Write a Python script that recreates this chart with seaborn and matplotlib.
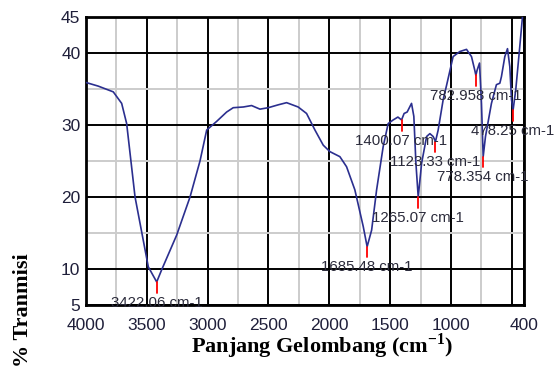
import matplotlib
matplotlib.use("Agg")
import matplotlib.pyplot as plt
import seaborn as sns
import pandas as pd

# ---- data ----
wavenumber = [4000, 3900, 3776, 3707, 3666, 3597, 3488, 3419, 3378, 3255, 3145, 3063,
              3008, 2926, 2844, 2790, 2707, 2639, 2570, 2502, 2420, 2351, 2256, 2187,
              2118, 2050, 1995, 1913, 1858, 1790, 1721, 1689, 1652, 1611, 1557, 1516,
              1475, 1436, 1406, 1385, 1360, 1324, 1305, 1288, 1269, 1241, 1200, 1173,
              1146, 1127, 1105, 1064, 1036, 982, 927, 872, 831, 804, 795, 785, 765,
              749, 735, 716, 667, 626, 598, 585, 557, 535, 516, 502, 489, 467, 434, 412]
transmittance = [35.9, 35.4, 34.6, 33.0, 30.2, 20.0, 10.3, 8.2, 9.9, 14.7, 20.0, 25.0,
                 29.3, 30.5, 31.8, 32.4, 32.5, 32.7, 32.2, 32.4, 32.8, 33.1, 32.5, 31.6,
                 29.3, 27.2, 26.3, 25.6, 24.2, 21.0, 15.9, 13.1, 15.4, 21.0, 27.0, 30.2,
                 30.7, 31.1, 30.7, 31.6, 31.8, 33.0, 31.2, 24.7, 20.0, 24.7, 28.4, 28.8,
                 28.4, 27.7, 29.3, 33.5, 35.5, 39.5, 40.2, 40.5, 39.5, 37.6, 36.9, 37.6, 38.6,
                 33.0, 25.6, 28.4, 33.0, 35.6, 35.8, 36.7, 39.5, 40.6, 38.1, 33.5, 32.1, 34.9, 40.9, 45.0]

peak_pos = [3419, 1689, 1406, 1269, 1127, 795, 735, 489]
peak_val = [8.2, 13.1, 30.7, 20.0, 27.7, 36.9, 25.6, 32.1]
peak_label = ["3422.06 cm-1", "1685.48 cm-1", "1400.07 cm-1", "1265.07 cm-1",
              "1123.33 cm-1", "782.958 cm-1", "778.354 cm-1", "478.25 cm-1"]

xtick_vals = [4000, 3500, 3000, 2500, 2000, 1500, 1000, 500, 400]
xtick_labels = ["4000", "3500", "3000", "2500", "2000", "1500", "1000", "", "400"]
xminor_vals = [3750, 3250, 2750, 2250, 1750, 1250, 750]
ytick_vals = [5, 10, 20, 30, 40, 45]
yminor_vals = [15, 25, 35]

x_label = r"Panjang Gelombang (cm$^{\mathbf{-1}}$)"
y_label = "% Tranmisi"

# ---- style ----
sns.set_style("white")
plt.rcParams["font.family"] = ["Liberation Sans", "DejaVu Sans"]
plt.rcParams["mathtext.fontset"] = "custom"
plt.rcParams["mathtext.rm"] = "Liberation Serif"
plt.rcParams["mathtext.bf"] = "Liberation Serif:bold"

df = pd.DataFrame({"wn": wavenumber, "T": transmittance})

fig = plt.figure(figsize=(5.55, 3.69), dpi=100)
ax = fig.add_axes([0.155, 0.1734, 0.789, 0.7806])

sns.lineplot(data=df, x="wn", y="T", ax=ax, color="#2b2f8f", lw=1.2,
             sort=False, estimator=None, zorder=3)

ax.set_xlim(4000, 400)
ax.set_ylim(5, 45)
ax.set_xlabel("")
ax.set_ylabel("")

ax.set_xticks(xtick_vals)
ax.set_xticklabels(xtick_labels)
ax.set_xticks(xminor_vals, minor=True)
ax.set_yticks(ytick_vals)
ax.set_yticks(yminor_vals, minor=True)

tick_color = "#1f1f3a"
ax.tick_params(axis="both", which="major", length=0, labelsize=12.5, labelcolor=tick_color)
ax.tick_params(axis="x", which="major", pad=9)
ax.tick_params(axis="y", which="major", pad=4)
ax.tick_params(axis="both", which="minor", direction="in", length=5, width=1.3, color="black")

ax.grid(which="major", color="black", lw=1.4, zorder=1)
ax.grid(which="minor", color="#cccccc", lw=1.4, zorder=0)
ax.set_axisbelow(True)
for s in ax.spines.values():
    s.set_visible(True)
    s.set_color("black")
    s.set_linewidth(2)

# red peak markers and labels
for px, pv, lab in zip(peak_pos, peak_val, peak_label):
    ax.plot([px, px], [pv, pv - 1.5], color="red", lw=1.3, zorder=4)
    ax.text(px, pv - 1.9, lab, ha="center", va="top", fontsize=10.8,
            color="#2b2b3b", zorder=5)

fig.text(322 / 555, (369 - 353) / 369, x_label, ha="center", va="baseline",
         fontsize=16, fontweight="bold", family="Liberation Serif", color="black")
fig.text(23 / 555, (369 - 253) / 369, y_label, rotation=90, ha="center", va="top",
         fontsize=16, fontweight="bold", family="Liberation Serif", color="black")

fig.savefig("out.png", dpi=100)
